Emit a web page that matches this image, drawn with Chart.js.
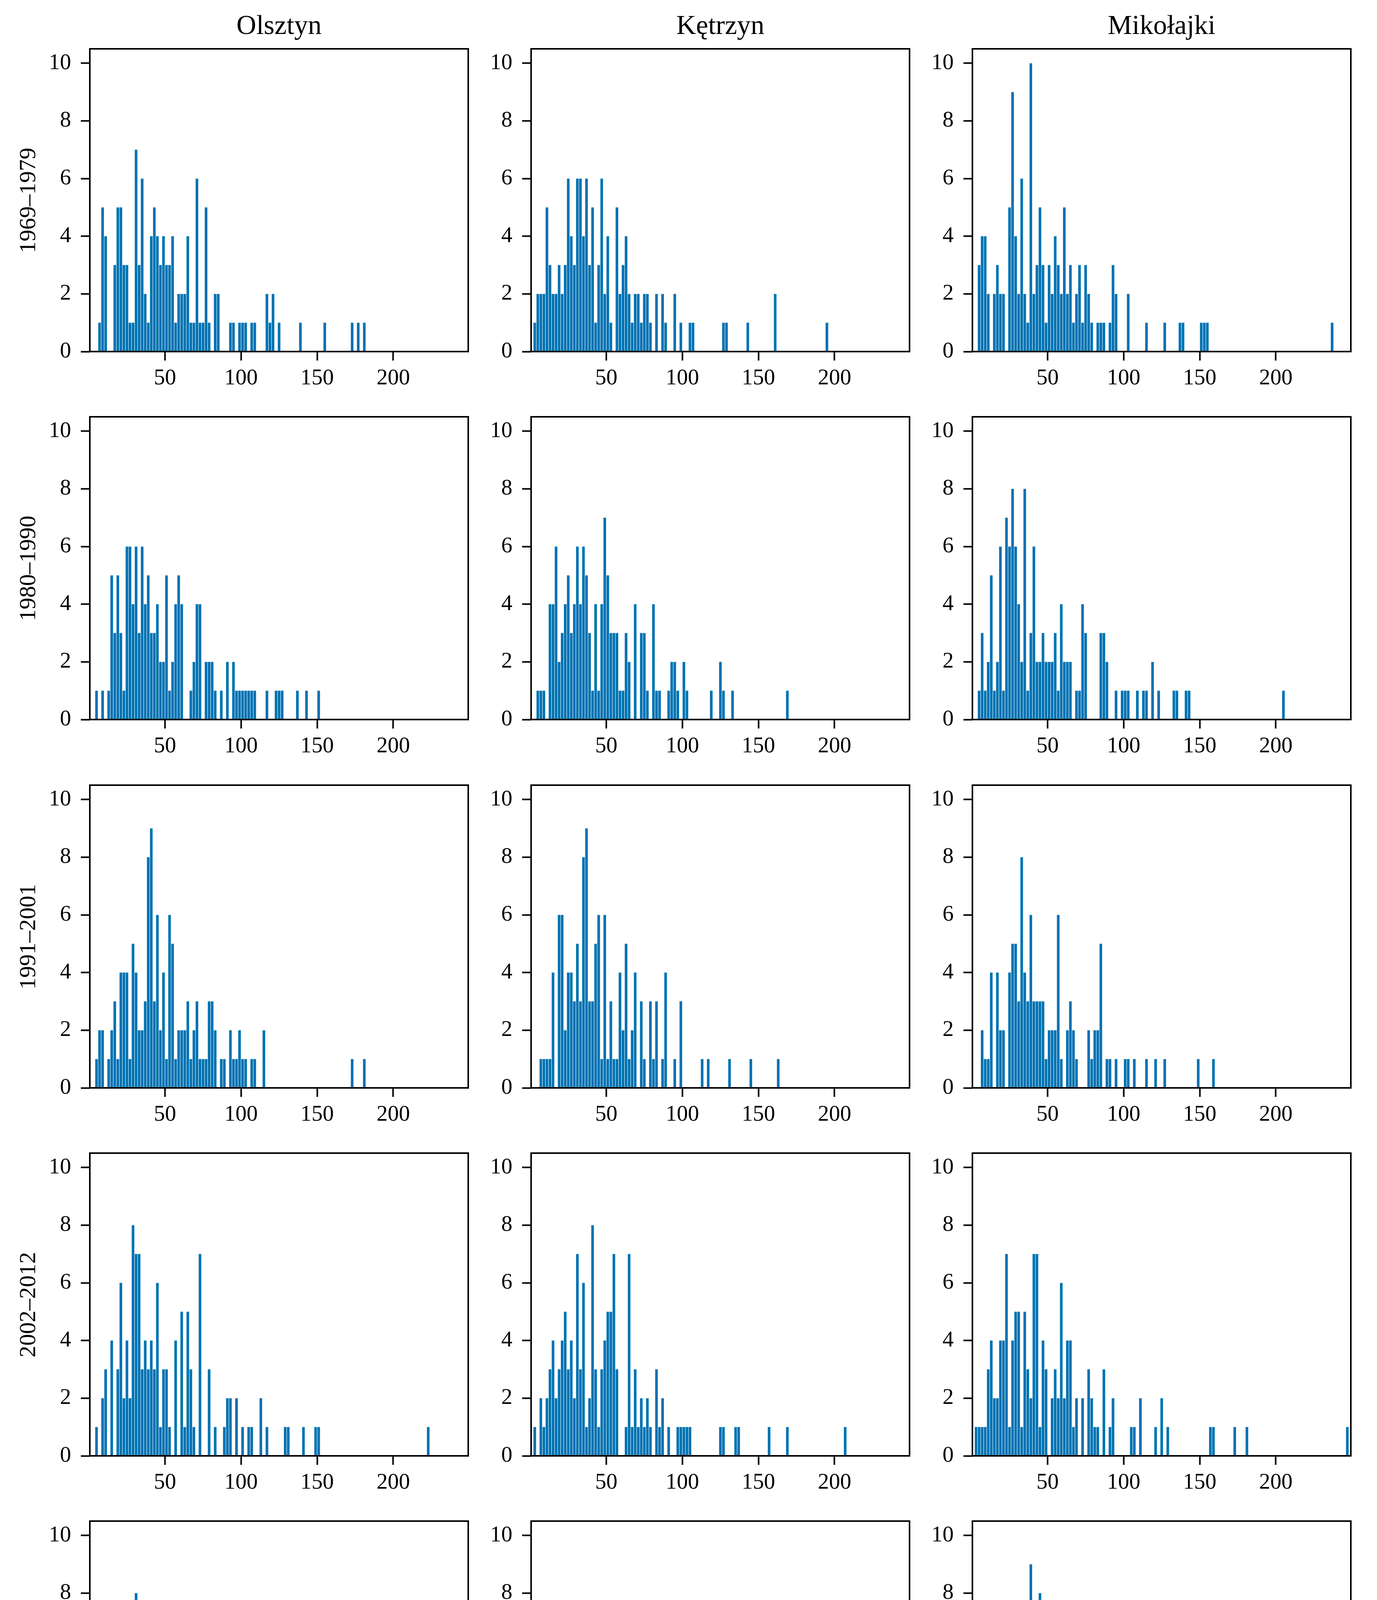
<!DOCTYPE html>
<html>
<head>
<meta charset="utf-8">
<title>Monthly total precipitation histograms</title>
<script src="https://cdn.jsdelivr.net/npm/chart.js@4.4.1/dist/chart.umd.min.js"></script>
<style>
  body { margin: 0; background: #fff; width: 3526px; height: 4879px; position: relative; overflow: hidden; }
  #page { position: absolute; left: 0; top: 0; width: 3526px; height: 4879px; }
  canvas { position: absolute; }
  .txt { position: absolute; color: #000; white-space: nowrap; font-family: "Liberation Serif", serif; line-height: 1; }
</style>
</head>
<body>
<div id="page"></div>
<script>
// histogram bins are 2 mm wide, starting at 0 mm; each array holds the count per bin
const binWidth = 2;
const stations = ["Olsztyn", "Kętrzyn", "Mikołajki"];
const periods = ["1969–1979", "1980–1990", "1991–2001", "2002–2012", "2013–2023"];
const xTickValues = [50, 100, 150, 200];
const yTickValues = [0, 2, 4, 6, 8, 10];
const xLabel = "Monthly total precipitation [mm]";

const olsztyn1969 = [
  0,0,0,1,5,4,0,0,3,5, 5,3,3,1,1,7,3,6,2,1, 4,5,4,3,4,3,3,4,1,2, 2,2,4,1,1,6,1,1,5,1,
  0,2,2,0,0,0,1,1,0,1, 1,1,0,1,1,0,0,0,2,1, 2,0,1,0,0,0,0,0,0,1, 0,0,0,0,0,0,0,1,0,0,
  0,0,0,0,0,0,1,0,1,0, 1];
const olsztyn1980 = [
  0,0,1,0,1,0,1,5,3,5, 3,1,6,6,4,6,3,6,4,5, 3,3,4,2,2,5,1,2,4,5, 4,0,0,1,2,4,4,0,2,2,
  2,1,0,1,0,2,0,2,1,1, 1,1,1,1,1,0,0,0,1,0, 0,1,1,1,0,0,0,0,1,0, 0,1,0,0,0,1];
const olsztyn1991 = [
  0,0,1,2,2,0,1,2,3,1, 4,4,4,1,5,4,2,2,3,8, 9,3,6,2,4,1,6,5,1,2, 2,2,3,1,2,3,1,1,1,3,
  3,2,0,1,1,0,2,1,1,2, 1,1,0,1,1,0,0,2,0,0, 0,0,0,0,0,0,0,0,0,0, 0,0,0,0,0,0,0,0,0,0,
  0,0,0,0,0,0,1,0,0,0, 1];
const olsztyn2002 = [
  0,0,1,0,2,3,0,4,0,3, 6,2,4,2,8,7,7,3,4,3, 4,3,6,1,3,3,1,0,4,0, 5,1,5,3,1,0,7,0,0,3,
  0,1,0,0,1,2,2,0,2,0, 1,0,1,1,0,0,2,0,1,0, 0,0,0,0,1,1,0,0,0,0, 1,0,0,0,1,1,0,0,0,0,
  0,0,0,0,0,0,0,0,0,0, 0,0,0,0,0,0,0,0,0,0, 0,0,0,0,0,0,0,0,0,0, 0,1];
const olsztyn2013 = [
  1,1,1,2,0,1,2,3,2,6, 4,2,4,1,4,8,1,7,1,7, 4,4,6,3,1,2,6,4,0,0, 2,4,3,3,0,2,2,1,1,1,
  3,0,2,1,1,0,2,1,1,0, 1,1,2,0,0,0,0,0,1,0, 0,0,0,1,2,0,0,1,0,0, 0,1,0,0,0,1,0,0,0,0,
  0,1,0,0,0,0,0,0,0,0, 0,1,0,0,0,0,0,0,0,0, 0,0,0,0,0,0,0,0,0,0, 0,0,0,0,0,1];

const ketrzyn1969 = [
  0,1,2,2,2,5,3,2,2,3, 2,3,6,4,3,6,6,4,6,3, 5,1,3,6,2,4,1,0,5,2, 3,4,2,1,2,2,1,2,2,1,
  0,2,0,2,1,0,0,2,0,1, 0,0,1,1,0,0,0,0,0,0, 0,0,0,1,1,0,0,0,0,0, 0,1,0,0,0,0,0,0,0,0,
  2,0,0,0,0,0,0,0,0,0, 0,0,0,0,0,0,0,1];
const ketrzyn1980 = [
  0,0,1,1,1,0,4,4,6,2, 3,4,5,3,4,6,4,6,5,3, 1,4,1,4,7,5,3,3,3,1, 1,3,2,0,4,0,3,3,1,0,
  4,1,1,0,0,1,2,2,1,0, 2,1,0,0,0,0,0,0,0,1, 0,0,2,1,0,0,1,0,0,0, 0,0,0,0,0,0,0,0,0,0,
  0,0,0,0,1];
const ketrzyn1991 = [
  0,0,0,1,1,1,1,4,0,6, 6,2,4,4,3,5,3,8,9,3, 3,5,6,1,6,1,3,1,1,4, 2,5,1,2,4,0,3,1,0,3,
  1,3,0,1,4,0,0,1,0,3, 0,0,0,0,0,0,1,0,1,0, 0,0,0,0,0,1,0,0,0,0, 0,0,1,0,0,0,0,0,0,0,
  0,1];
const ketrzyn2002 = [
  0,1,0,2,1,2,3,4,2,3, 4,5,3,4,2,7,3,6,1,2, 8,3,1,3,4,5,5,7,3,0, 0,1,7,1,3,1,2,1,2,1,
  0,3,1,2,0,1,0,0,1,1, 1,1,1,0,0,0,0,0,0,0, 0,0,1,1,0,0,0,1,1,0, 0,0,0,0,0,0,0,0,1,0,
  0,0,0,0,1,0,0,0,0,0, 0,0,0,0,0,0,0,0,0,0, 0,0,0,1];
const ketrzyn2013 = [
  0,0,4,1,4,1,2,3,3,5, 3,4,6,3,4,4,5,1,1,7, 4,4,2,3,3,1,4,2,4,4, 3,0,1,3,1,1,0,2,2,0,
  2,1,2,2,1,2,1,1,0,0, 1,2,0,3,0,0,0,0,0,1, 0,1,0,0,1,0,1,1,0,0, 1,0,0,0,0,1,0,0,0,0,
  0,0,0,0,0,0,0,0,0,1];

const mikolajki1969 = [
  0,0,3,4,4,2,0,2,3,2, 2,0,5,9,4,2,6,2,1,10, 2,3,5,3,1,3,2,4,3,2, 5,2,3,1,2,3,1,3,2,1,
  0,1,1,1,0,1,3,2,0,0, 0,2,0,0,0,0,0,1,0,0, 0,0,0,1,0,0,0,0,1,1, 0,0,0,0,0,1,1,1,0,0,
  0,0,0,0,0,0,0,0,0,0, 0,0,0,0,0,0,0,0,0,0, 0,0,0,0,0,0,0,0,0,0, 0,0,0,0,0,0,0,0,1];
const mikolajki1980 = [
  0,0,1,3,1,2,5,1,2,6, 1,7,6,8,6,4,2,8,1,3, 6,2,2,3,2,2,2,3,1,4, 2,2,2,0,1,1,4,3,0,0,
  0,0,3,3,2,0,0,1,0,1, 1,1,0,0,1,0,1,1,0,2, 0,1,0,0,0,0,1,1,0,0, 1,1,0,0,0,0,0,0,0,0,
  0,0,0,0,0,0,0,0,0,0, 0,0,0,0,0,0,0,0,0,0, 0,0,1];
const mikolajki1991 = [
  0,0,0,2,1,1,4,0,4,2, 2,0,4,5,5,3,8,4,3,6, 3,3,3,3,1,2,2,2,6,1, 0,2,3,2,1,0,0,0,2,1,
  2,2,5,0,1,1,0,1,0,0, 1,1,0,1,0,0,0,1,0,0, 1,0,0,1,0,0,0,0,0,0, 0,0,0,0,1,0,0,0,0,1];
const mikolajki2002 = [
  0,1,1,1,1,3,4,2,2,4, 4,7,1,4,5,5,1,5,3,2, 7,7,1,4,3,0,2,3,2,6, 2,4,4,1,2,0,2,0,3,2,
  1,1,0,3,0,1,2,0,0,0, 0,0,1,1,0,2,0,0,0,0, 1,0,2,0,1,0,0,0,0,0, 0,0,0,0,0,0,0,0,1,1,
  0,0,0,0,0,0,1,0,0,0, 1,0,0,0,0,0,0,0,0,0, 0,0,0,0,0,0,0,0,0,0, 0,0,0,0,0,0,0,0,0,0,
  0,0,0,1];
const mikolajki2013 = [
  0,2,0,1,3,3,0,4,4,4, 3,2,5,3,3,1,4,3,4,9, 2,2,8,3,4,6,4,1,3,2, 3,3,0,1,1,1,1,1,0,4,
  3,1,1,0,0,0,1,1,0,0, 2,0,1,2,3,0,1,0,0,0, 1,0,0,0,1,0,0,0,0,1, 1,0,0,1,0,0,0,0,0,0,
  0,1,0,0,0,0,0,0,0,0, 0,0,0,0,0,0,1];

// rows = periods, columns = stations
const histograms = [
  [olsztyn1969, ketrzyn1969, mikolajki1969],
  [olsztyn1980, ketrzyn1980, mikolajki1980],
  [olsztyn1991, ketrzyn1991, mikolajki1991],
  [olsztyn2002, ketrzyn2002, mikolajki2002],
  [olsztyn2013, ketrzyn2013, mikolajki2013]
];

// page layout (px)
const colLeft = [230, 1360, 2490];
const rowTop = [125, 1067, 2010, 2952, 3894];
const plotW = 969;
const plotH = 775;
const padL = 200, padR = 20, padT = 20, padB = 130;
const fontFamily = "'Liberation Serif', serif";
const barColor = "#0072b2";
const page = document.getElementById("page");

const framePlugin = {
  id: "frame",
  afterDraw(chart) {
    const a = chart.chartArea;
    const ctx = chart.ctx;
    ctx.save();
    ctx.strokeStyle = "#000";
    ctx.lineWidth = 4;
    ctx.strokeRect(a.left, a.top, a.right - a.left, a.bottom - a.top);
    ctx.restore();
  }
};

// keep the plot area exactly where the frame should be
function noPadding(s) {
  s.paddingTop = 0;
  s.paddingBottom = 0;
  s.paddingLeft = 0;
  s.paddingRight = 0;
}

function addText(text, x, y, size, rotate) {
  let d = document.createElement("div");
  d.className = "txt";
  d.textContent = text;
  d.style.left = x + "px";
  d.style.top = y + "px";
  d.style.fontSize = size + "px";
  d.style.transform = "translate(-50%, -50%)" + (rotate ? " rotate(-90deg)" : "");
  page.appendChild(d);
}

function drawPanel(counts, r, c) {
  let canvas = document.createElement("canvas");
  canvas.width = plotW + padL + padR;
  canvas.height = plotH + padT + padB;
  canvas.style.left = (colLeft[c] - padL) + "px";
  canvas.style.top = (rowTop[r] - padT) + "px";
  page.appendChild(canvas);

  let points = counts.map((n, k) => ({ x: binWidth * (k + 0.5), y: n }));

  new Chart(canvas.getContext("2d"), {
    type: "bar",
    data: {
      datasets: [{
        data: points,
        backgroundColor: barColor,
        borderWidth: 0,
        barPercentage: 0.86,
        categoryPercentage: 1.0
      }]
    },
    options: {
      responsive: false,
      animation: false,
      devicePixelRatio: 1,
      layout: { padding: { top: padT, right: padR, left: 0, bottom: 0 } },
      plugins: { legend: { display: false }, tooltip: { enabled: false } },
      scales: {
        x: {
          type: "linear",
          min: 0.6,
          max: 249.3,
          offset: false,
          afterBuildTicks: s => { s.ticks = xTickValues.map(v => ({ value: v })); },
          afterFit: s => { s.height = padB; noPadding(s); },
          border: { display: false },
          grid: { display: true, offset: false, drawOnChartArea: false, drawTicks: true, tickLength: 23, tickWidth: 4, tickColor: "#000" },
          ticks: { color: "#000", font: { family: fontFamily, size: 57 }, padding: 12, maxRotation: 0, autoSkip: false }
        },
        y: {
          min: 0,
          max: 10.5,
          afterBuildTicks: s => { s.ticks = yTickValues.map(v => ({ value: v })); },
          afterFit: s => { s.width = padL; noPadding(s); },
          border: { display: false },
          grid: { display: true, drawOnChartArea: false, drawTicks: true, tickLength: 23, tickWidth: 4, tickColor: "#000" },
          ticks: { color: "#000", font: { family: fontFamily, size: 57 }, padding: 25 }
        }
      }
    },
    plugins: [framePlugin]
  });
}

for (let r = 0; r < periods.length; r++) {
  for (let c = 0; c < stations.length; c++) {
    drawPanel(histograms[r][c], r, c);
  }
}

for (let c = 0; c < stations.length; c++) {
  addText(stations[c], colLeft[c] + plotW / 2, 64, 70, false);
  addText(xLabel, colLeft[c] + plotW / 2, 4822, 62, false);
}
for (let r = 0; r < periods.length; r++) {
  addText(periods[r], 70, rowTop[r] + plotH / 2, 60, true);
}
</script>
</body>
</html>
